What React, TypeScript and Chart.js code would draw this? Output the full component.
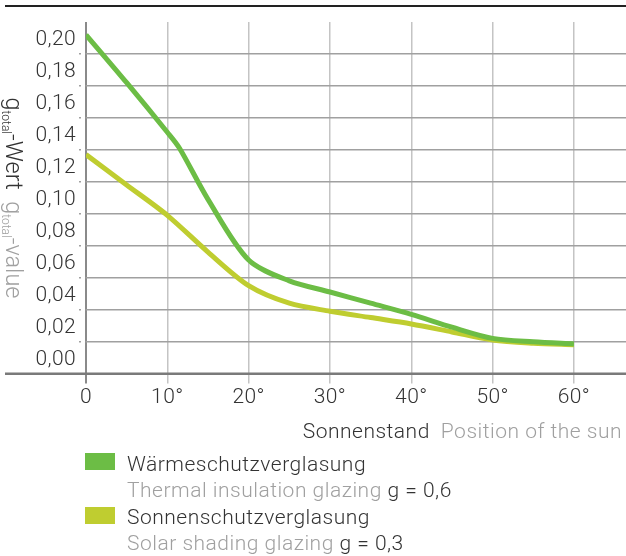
import React, { useEffect, useRef } from "react";
import { Chart, registerables } from "chart.js";

Chart.register(...registerables);

// ---- data ----
const xTickValues = [0, 10, 20, 30, 40, 50, 60];
const yTickValues = [0, 0.02, 0.04, 0.06, 0.08, 0.1, 0.12, 0.14, 0.16, 0.18, 0.2];

const thermalAngles = [0, 5, 10, 11.5, 15, 20, 25, 30, 35, 40, 45, 50, 55, 60];
const thermalValues = [0.212, 0.182, 0.151, 0.141, 0.109, 0.071, 0.058, 0.051, 0.044, 0.037, 0.029, 0.022, 0.0198, 0.0185];

const solarAngles = [0, 5, 10, 15, 20, 25, 30, 35, 40, 45, 50, 55, 60];
const solarValues = [0.137, 0.118, 0.099, 0.076, 0.055, 0.044, 0.039, 0.035, 0.031, 0.026, 0.021, 0.019, 0.018];

const GREEN = "#6cbd45";
const YELLOW = "#bfcd30";
const DARK = "#333333";
const GRAY = "#a0a0a0";
const FONT = "Roboto, 'Liberation Sans', sans-serif";

const legendItems = [
  { color: GREEN, de: "Wärmeschutzverglasung", en: "Thermal insulation glazing", g: "g = 0,6" },
  { color: YELLOW, de: "Sonnenschutzverglasung", en: "Solar shading glazing", g: "g = 0,3" },
];

const decorPlugin = {
  id: "decor",
  beforeDraw(chart: any) {
    (chart.ctx as any).letterSpacing = "0.4px";
  },
  afterDraw(chart: any) {
    const ctx = chart.ctx as CanvasRenderingContext2D;
    ctx.save();
    // top rule
    ctx.fillStyle = "#222";
    ctx.fillRect(5, 5, 621, 2);
    // bottom axis line
    const y0 = chart.scales.y.getPixelForValue(0);
    ctx.fillStyle = "#7a7a7a";
    ctx.fillRect(5, y0 - 1, 621, 2.5);

    // y title (rotated clockwise)
    (ctx as any).letterSpacing = "0px";
    const main = `300 23.5px ${FONT}`;
    const sub = `300 12px ${FONT}`;
    const pieces: [string, string, string, number][] = [
      ["g", DARK, main, 0],
      ["total", DARK, sub, 4],
      ["-Wert", DARK, main, 0],
      ["  ", DARK, main, 0],
      ["g", GRAY, main, 0],
      ["total", GRAY, sub, 4],
      ["-value", GRAY, main, 0],
    ];
    let total = 0;
    const widths = pieces.map(([t, , f]) => {
      ctx.font = f;
      const w = ctx.measureText(t).width;
      total += w;
      return w;
    });
    ctx.translate(6, 198 - total / 2);
    ctx.rotate(Math.PI / 2);
    ctx.textBaseline = "alphabetic";
    ctx.textAlign = "left";
    let px = 0;
    pieces.forEach(([t, c, f, dy], i) => {
      ctx.font = f;
      ctx.fillStyle = c;
      ctx.fillText(t, px, dy);
      px += widths[i];
    });
    ctx.setTransform(1, 0, 0, 1, 0, 0);

    // x title
    (ctx as any).letterSpacing = "0.5px";
    ctx.font = `300 21px ${FONT}`;
    ctx.textBaseline = "alphabetic";
    ctx.textAlign = "left";
    const enText = "Position of the sun";
    const enW = ctx.measureText(enText).width;
    ctx.fillStyle = GRAY;
    ctx.fillText(enText, 622 - enW, 438);
    const deW = ctx.measureText("Sonnenstand").width;
    ctx.fillStyle = DARK;
    ctx.fillText("Sonnenstand", 622 - enW - 11 - deW, 438);

    // legend
    legendItems.forEach((item, i) => {
      const top = 453 + i * 54;
      ctx.fillStyle = item.color;
      ctx.fillRect(85, top, 30, 17);
      ctx.font = `300 21px ${FONT}`;
      ctx.fillStyle = DARK;
      ctx.fillText(item.de, 127, 471 + i * 53);
      ctx.fillStyle = GRAY;
      ctx.fillText(item.en, 127, 497 + i * 53);
      const w = ctx.measureText(item.en + " ").width;
      ctx.fillStyle = DARK;
      ctx.fillText(item.g, 127 + w, 497 + i * 53);
    });
    ctx.restore();
  },
};

export default function App() {
  const ref = useRef<HTMLCanvasElement>(null);
  useEffect(() => {
    if (!ref.current) return;
    const chart = new Chart(ref.current, {
      type: "line",
      data: {
        datasets: [
          {
            label: "Wärmeschutzverglasung",
            data: thermalAngles.map((a, i) => ({ x: a, y: thermalValues[i] })),
            borderColor: GREEN,
            backgroundColor: GREEN,
            borderWidth: 5,
            pointRadius: 0,
            tension: 0.3,
          },
          {
            label: "Sonnenschutzverglasung",
            data: solarAngles.map((a, i) => ({ x: a, y: solarValues[i] })),
            borderColor: YELLOW,
            backgroundColor: YELLOW,
            borderWidth: 5,
            pointRadius: 0,
            tension: 0.3,
          },
        ],
      },
      options: {
        responsive: false,
        animation: false,
        layout: { padding: { top: 22, left: 0, right: 0, bottom: 0 } },
        plugins: { legend: { display: false }, tooltip: { enabled: false } },
        scales: {
          x: {
            type: "linear",
            min: 0,
            max: 66.4,
            afterBuildTicks: (scale: any) => {
              scale.ticks = xTickValues.map((v) => ({ value: v }));
            },
            afterFit: (scale: any) => {
              scale.height = 182.5;
            },
            ticks: {
              callback: (v: any) => (Number(v) === 0 ? "0" : `${v}°`),
              color: DARK,
              font: { family: FONT, size: 21, weight: "300" as any },
              padding: 2,
              maxRotation: 0,
            },
            grid: {
              color: (c: any) => (c.tick && c.tick.value === 0 ? "#8a8a8a" : "#c4c4c4"),
              lineWidth: (c: any) => (c.tick && c.tick.value === 0 ? 2 : 1.5),
              tickLength: 10,
            },
            border: { display: false },
          },
          y: {
            type: "linear",
            min: 0,
            max: 0.22,
            afterBuildTicks: (scale: any) => {
              scale.ticks = yTickValues.map((v) => ({ value: v }));
            },
            afterFit: (scale: any) => {
              scale.width = 86;
            },
            ticks: {
              callback: (v: any) => Number(v).toFixed(2).replace(".", ","),
              color: DARK,
              font: { family: FONT, size: 21, weight: "300" as any },
              padding: 3,
              labelOffset: -14,
            },
            grid: {
              color: (c: any) => (c.tick && c.tick.value === 0 ? "rgba(0,0,0,0)" : "#a0a0a0"),
              lineWidth: 1.5,
              borderDash: [2, 4.5],
              tickBorderDash: [2, 4.5],
              tickLength: 7,
            },
            border: { display: false },
          },
        },
      },
      plugins: [decorPlugin],
    });
    return () => chart.destroy();
  }, []);
  return (
    <div style={{ position: "absolute", left: 0, top: 0, width: 626, height: 556 }}>
      <canvas ref={ref} width={626} height={556} />
    </div>
  );
}
